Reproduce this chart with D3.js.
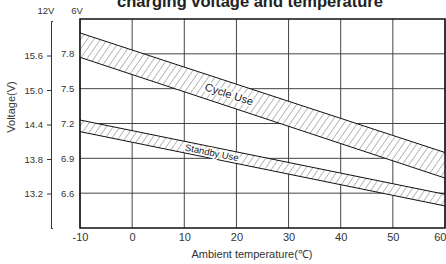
<!DOCTYPE html>
<head>
<meta charset="utf-8">
<script src="https://d3js.org/d3.v7.min.js"></script>
<style>
body { margin: 0; background: white; font-family: 'Liberation Sans', Arial, sans-serif; color: #333; }
.grid line { stroke: #444; stroke-width: 1; }
.band_edge { fill: none; stroke: #111; stroke-width: 1; }
.tick text { fill: #333; }
</style>
</head>
<body>
<div id="plotContainer"></div>
<script>

// temperatures (C) at the ends of each straight band
var temps = [-10, 60];
// 6V values
var cycleHigh = [7.98, 6.95];
var cycleLow = [7.77, 6.73];
var standbyHigh = [7.23, 6.59];
var standbyLow = [7.13, 6.49];

var xTicks = [-10, 0, 10, 20, 30, 40, 50, 60];
var yTicks6 = [6.6, 6.9, 7.2, 7.5, 7.8];
var yTicks12 = [13.2, 13.8, 14.4, 15.0, 15.6];

var width = 446, height = 264;
var margin = {top: 19, right: 1, bottom: 36, left: 80};

var svg = d3.select("#plotContainer")
    .append("svg")
    .attr("width", width)
    .attr("height", height);

var x = d3.scaleLinear().domain([-10, 60]).range([margin.left, width - margin.right]);
var y = d3.scaleLinear().domain([6.3, 8.1]).range([height - margin.bottom, margin.top]);
var y12 = d3.scaleLinear().domain([12.6, 16.2]).range([height - margin.bottom, margin.top + 2]);

// hatch
var defs = svg.append("defs");
defs.append("pattern")
    .attr("id", "hatch")
    .attr("patternUnits", "userSpaceOnUse")
    .attr("width", 5.5)
    .attr("height", 5.5)
    .attr("patternTransform", "rotate(35)")
  .append("line")
    .attr("x1", 0).attr("y1", 0)
    .attr("x2", 0).attr("y2", 5.5)
    .attr("stroke", "#666")
    .attr("stroke-width", 0.9);

// gridlines
var grid = svg.append("g").attr("class", "grid");
grid.selectAll(".vline")
    .data(xTicks)
    .enter().append("line")
    .attr("x1", function(d) { return x(d); })
    .attr("x2", function(d) { return x(d); })
    .attr("y1", y(8.1))
    .attr("y2", y(6.3));
grid.selectAll(".hline")
    .data(yTicks6)
    .enter().append("line")
    .attr("x1", x(-10))
    .attr("x2", x(60))
    .attr("y1", function(d) { return y(d); })
    .attr("y2", function(d) { return y(d); });

// bands
function band(hi, lo) {
  return temps.map(function(t, i) { return {t: t, hi: hi[i], lo: lo[i]}; });
}
var area = d3.area()
    .x(function(d) { return x(d.t); })
    .y0(function(d) { return y(d.lo); })
    .y1(function(d) { return y(d.hi); });
var lineHi = d3.line().x(function(d) { return x(d.t); }).y(function(d) { return y(d.hi); });
var lineLo = d3.line().x(function(d) { return x(d.t); }).y(function(d) { return y(d.lo); });

var bands = [
  {name: "Cycle Use", data: band(cycleHigh, cycleLow), at: 18.6, size: 11},
  {name: "Standby Use", data: band(standbyHigh, standbyLow), at: 15.3, size: 9.5}
];

bands.forEach(function(b) {
  svg.append("path").datum(b.data).attr("d", area).attr("fill", "white");
  svg.append("path").datum(b.data).attr("d", area).attr("fill", "url(#hatch)");
  svg.append("path").datum(b.data).attr("d", lineHi).attr("class", "band_edge");
  svg.append("path").datum(b.data).attr("d", lineLo).attr("class", "band_edge");

  var d0 = b.data[0], d1 = b.data[1];
  var f = (b.at - d0.t) / (d1.t - d0.t);
  var mid = (d0.hi + d0.lo) / 2 + f * ((d1.hi + d1.lo) / 2 - (d0.hi + d0.lo) / 2);
  var ang = Math.atan2(y((d1.hi + d1.lo) / 2) - y((d0.hi + d0.lo) / 2), x(d1.t) - x(d0.t)) * 180 / Math.PI;
  svg.append("text")
    .attr("transform", "translate(" + x(b.at) + "," + y(mid) + ") rotate(" + ang + ")")
    .attr("text-anchor", "middle")
    .attr("dy", "0.35em")
    .attr("font-size", b.size)
    .attr("fill", "#222")
    .attr("stroke", "white")
    .attr("stroke-width", 3)
    .attr("paint-order", "stroke")
    .text(b.name);
});

// plot border
svg.append("rect")
    .attr("x", x(-10))
    .attr("y", y(8.1))
    .attr("width", x(60) - x(-10))
    .attr("height", y(6.3) - y(8.1))
    .attr("fill", "none")
    .attr("stroke", "#111")
    .attr("stroke-width", 1.5);

// 12V axis (bracket)
var ax12 = svg.append("g")
    .attr("transform", "translate(51,0)")
    .call(d3.axisLeft(y12).tickValues(yTicks12).tickFormat(d3.format(".1f"))
      .tickSize(4).tickSizeOuter(-2).tickPadding(4));
ax12.select(".domain").attr("stroke", "#333");
ax12.selectAll(".tick line").attr("stroke", "#333");
ax12.selectAll("text").attr("font-size", 9.5).attr("font-family", "'Liberation Sans', Arial, sans-serif");

// 6V labels
var ax6 = svg.append("g")
    .attr("transform", "translate(57,0)")
    .call(d3.axisRight(y).tickValues(yTicks6).tickFormat(d3.format(".1f")).tickSize(0).tickPadding(4));
ax6.select(".domain").remove();
ax6.selectAll("text").attr("font-size", 9.5).attr("font-family", "'Liberation Sans', Arial, sans-serif");

svg.append("text").attr("x", 46).attr("y", 14).attr("text-anchor", "middle")
    .attr("font-size", 9.5).attr("fill", "#333").text("12V");
svg.append("text").attr("x", 77).attr("y", 14).attr("text-anchor", "middle")
    .attr("font-size", 9.5).attr("fill", "#333").text("6V");

// x axis
var axX = svg.append("g")
    .attr("transform", "translate(0," + y(6.3) + ")")
    .call(d3.axisBottom(x).tickValues(xTicks).tickFormat(function(d) { return String(d); })
      .tickSize(0).tickPadding(5));
axX.select(".domain").remove();
axX.selectAll("text").attr("font-size", 11).attr("font-family", "'Liberation Sans', Arial, sans-serif");
axX.selectAll(".tick").filter(function(d) { return d === 60; }).select("text")
    .attr("text-anchor", "end").attr("x", 1);

svg.append("text")
    .attr("x", 252).attr("y", 258)
    .attr("text-anchor", "middle")
    .attr("font-size", 11).attr("fill", "#333")
    .text("Ambient temperature(℃)");

svg.append("text")
    .attr("transform", "translate(15,107) rotate(-90)")
    .attr("text-anchor", "middle")
    .attr("font-size", 11).attr("fill", "#333")
    .text("Voltage(V)");

svg.append("text")
    .attr("x", 250).attr("y", 7)
    .attr("text-anchor", "middle")
    .attr("font-size", 16.5).attr("font-weight", "bold").attr("fill", "#222")
    .text("charging voltage and temperature");

</script>
</body>
